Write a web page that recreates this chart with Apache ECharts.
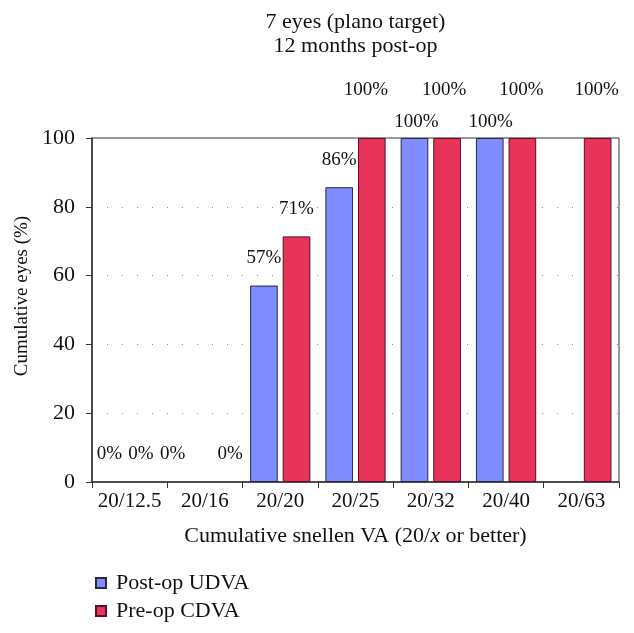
<!DOCTYPE html>
<html><head><meta charset="utf-8">
<script src="https://cdn.jsdelivr.net/npm/echarts@6/dist/echarts.min.js"></script>
<style>html,body{margin:0;padding:0;background:#fff}#c{width:634px;height:633px}</style>
</head><body><div id="c"></div>
<script>
// ---- data ----
const categories = ['20/12.5', '20/16', '20/20', '20/25', '20/32', '20/40', '20/63'];
const postOpUDVA = [0, 0, 57.1, 85.7, 100, 100, null];
const preOpCDVA = [0, 0, 71.4, 100, 100, 100, 100];
const postOpLabels = ['0%', '0%', '57%', '86%', '100%', '100%', ''];
const preOpLabels = ['0%', '0%', '71%', '100%', '100%', '100%', '100%'];
const yTickValues = [0, 20, 40, 60, 80, 100];
const seriesNames = ['Post-op UDVA', 'Pre-op CDVA'];
const titleLines = ['7 eyes (plano target)', '12 months post-op'];

// ---- label placement (style, not data) ----
const blueLabelPlace = [[-4, 18], [-16, 18], [0, 18], [0, 18], [2, 6.5], [1, 6.5], [0, 18]];
const redLabelPlace = [[-5, 18], [9, 18], [0, 18], [-6, 38.5], [-3, 38.5], [-1, 38.5], [-1, 38.5]];

const FONT = '"Liberation Serif", "DejaVu Serif", serif';
const BLUE = '#7f8cff';
const RED = '#e8335a';
const AX = 22;

function mkData(vals, labels, place) {
  return vals.map((v, i) => ({
    value: v,
    itemStyle: v === 0 ? { borderWidth: 0 } : undefined,
    label: { formatter: labels[i], offset: [place[i][0], 0], distance: place[i][1] }
  }));
}

const chart = echarts.init(document.getElementById('c'), null, { renderer: 'canvas' });
chart.setOption({
  animation: false,
  backgroundColor: '#fff',
  textStyle: { fontFamily: FONT },
  graphic: [{
    type: 'text', x: 355.5, y: 10,
    style: {
      text: titleLines.join('\n'), align: 'center', verticalAlign: 'top',
      font: AX + 'px ' + FONT, fill: '#111', lineHeight: 24
    }
  }],
  grid: { left: 92, right: 15, top: 138, bottom: 151, show: true, borderColor: '#333', borderWidth: 1, backgroundColor: 'transparent' },
  legend: {
    orient: 'vertical', left: 90, top: 567, itemWidth: 10, itemHeight: 10, itemGap: 6,
    icon: 'rect', textStyle: { fontFamily: FONT, fontSize: AX, color: '#111', padding: [0, 0, 0, 5] },
    data: seriesNames
  },
  xAxis: {
    type: 'category', data: categories,
    axisLine: { lineStyle: { color: '#333', width: 1.5 } },
    axisTick: { show: true, length: 6, interval: 0, lineStyle: { color: '#333' } },
    axisLabel: { fontFamily: FONT, fontSize: 21, color: '#111', margin: 9, interval: 0, hideOverlap: false },
    name: 'Cumulative snellen VA (20/{i|x} or better)',
    nameLocation: 'middle', nameGap: 43,
    nameTextStyle: { fontFamily: FONT, fontSize: AX, color: '#111', rich: { i: { fontStyle: 'italic', fontFamily: FONT, fontSize: AX, color: '#111' } } }
  },
  yAxis: {
    type: 'value', min: 0, max: 100, interval: 20,
    axisLine: { show: true, lineStyle: { color: '#333', width: 1.5 } },
    axisTick: { show: true, length: 6, lineStyle: { color: '#333' } },
    axisLabel: { fontFamily: FONT, fontSize: AX, color: '#111', margin: 17,
      formatter: v => yTickValues.includes(v) ? String(v) : '' },
    splitLine: { show: true, lineStyle: { color: '#888', type: [1, 14], width: 1 } },
    name: 'Cumulative eyes (%)', nameLocation: 'middle', nameGap: 58, nameRotate: 90,
    nameTextStyle: { fontFamily: FONT, fontSize: 19, color: '#111', padding: [0, 0, 0, 28] }
  },
  series: [
    {
      name: seriesNames[0], type: 'bar', data: mkData(postOpUDVA, postOpLabels, blueLabelPlace),
      barGap: '18%', barCategoryGap: '20%',
      itemStyle: { color: BLUE, borderColor: '#2a2a3a', borderWidth: 1 },
      label: { show: true, position: 'top', fontFamily: FONT, fontSize: 19, color: '#111', lineHeight: 19 }
    },
    {
      name: seriesNames[1], type: 'bar', data: mkData(preOpCDVA, preOpLabels, redLabelPlace),
      barGap: '18%', barCategoryGap: '20%',
      itemStyle: { color: RED, borderColor: '#5a1020', borderWidth: 1 },
      label: { show: true, position: 'top', fontFamily: FONT, fontSize: 19, color: '#111', lineHeight: 19 }
    }
  ]
});
</script></body></html>
